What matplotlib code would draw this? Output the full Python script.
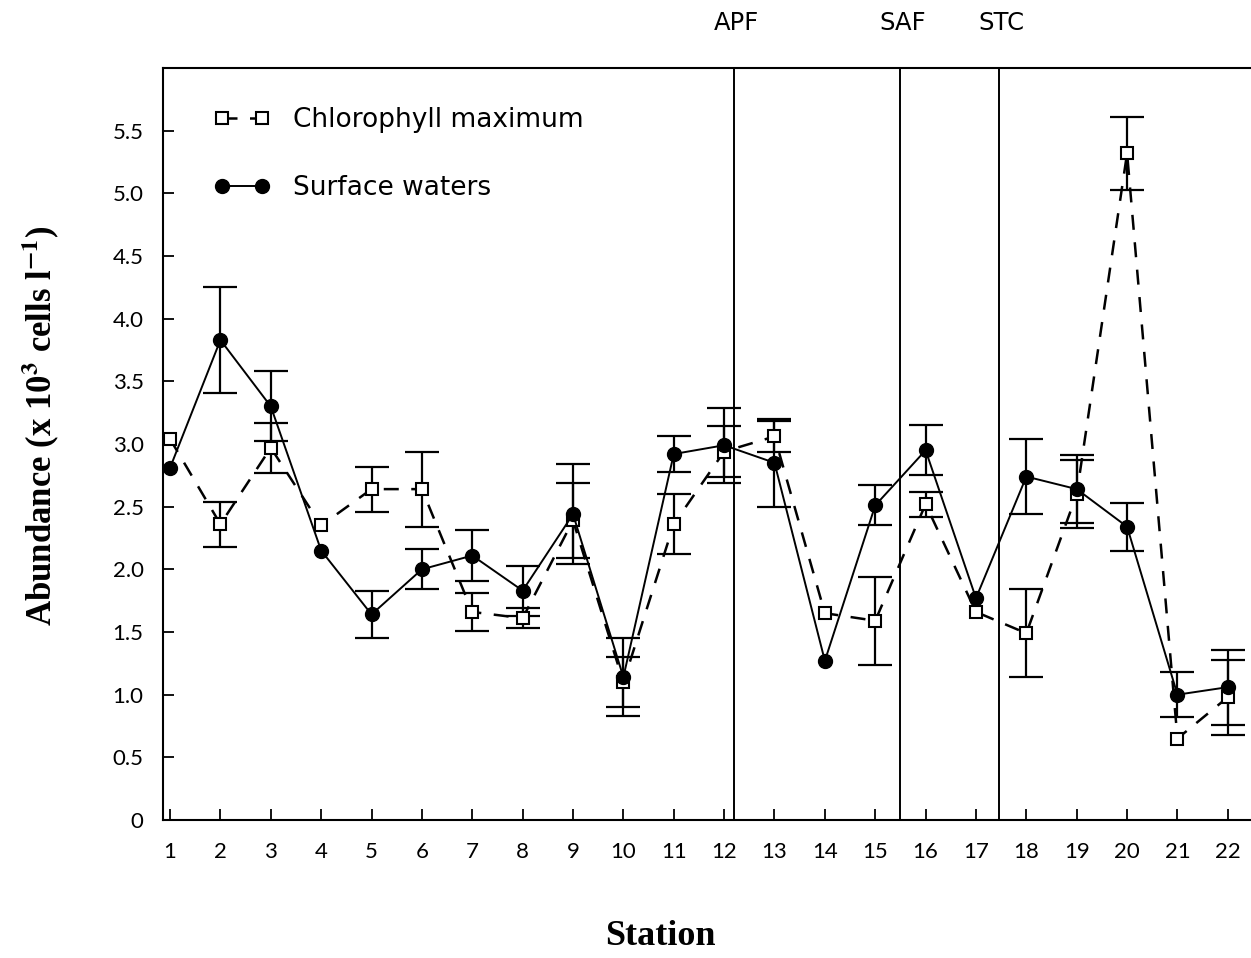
import matplotlib.pyplot as plt
import numpy as np

stations = np.arange(1, 23)

# surface waters (filled circles, solid line)
surface = [2.81, 3.83, 3.30, 2.15, 1.64, 2.00, 2.11, 1.83, 2.44, 1.14, 2.92,
           2.99, 2.85, 1.27, 2.51, 2.95, 1.77, 2.74, 2.64, 2.34, 1.00, 1.06]
surface_err = [np.nan, 0.42, 0.28, np.nan, 0.19, 0.16, 0.20, 0.20, 0.40, 0.31, 0.14,
               0.30, 0.35, np.nan, 0.16, 0.20, np.nan, 0.30, 0.27, 0.19, 0.18, 0.30]

# chlorophyll maximum (open squares, dashed line)
chl = [3.04, 2.36, 2.97, 2.35, 2.64, 2.64, 1.66, 1.61, 2.39, 1.10, 2.36,
       2.94, 3.06, 1.65, 1.59, 2.52, 1.66, 1.49, 2.60, 5.32, 0.65, 0.98]
chl_err = [np.nan, 0.18, 0.20, np.nan, 0.18, 0.30, 0.15, 0.08, 0.30, 0.20, 0.24,
           0.20, 0.12, np.nan, 0.35, 0.10, np.nan, 0.35, 0.27, 0.29, np.nan, 0.30]

# fronts
front_names = ["APF", "SAF", "STC"]
front_pos = [12.2, 15.5, 17.45]

yticks = [0, 0.5, 1.0, 1.5, 2.0, 2.5, 3.0, 3.5, 4.0, 4.5, 5.0, 5.5]
ytick_labels = ["0", "0.5", "1.0", "1.5", "2.0", "2.5", "3.0", "3.5", "4.0", "4.5", "5.0", "5.5"]

plt.rcParams['mathtext.fontset'] = 'stix'

fig = plt.figure(figsize=(12.51, 9.58), dpi=100)
ax = fig.add_axes([163/1251, 138/958, 1088/1251, 752/958])

cap = 12.5
ax.errorbar(stations, chl, yerr=chl_err, fmt='none', ecolor='black',
            elinewidth=1.6, capsize=cap, capthick=1.6, zorder=2)
ax.errorbar(stations, surface, yerr=surface_err, fmt='none', ecolor='black',
            elinewidth=1.6, capsize=cap, capthick=1.6, zorder=2)

ax.plot(stations, chl, color='black', linestyle=(0, (6, 5)), linewidth=1.8,
        marker='s', markersize=9, markerfacecolor='white', markeredgecolor='black',
        markeredgewidth=1.5, zorder=4, label='Chlorophyll maximum')
ax.plot(stations, surface, color='black', linestyle='-', linewidth=1.4,
        marker='o', markersize=10, markerfacecolor='black', markeredgecolor='black',
        zorder=5, label='Surface waters')

for name, xf in zip(front_names, front_pos):
    ax.axvline(xf, color='black', linewidth=1.4, zorder=1)
    ax.text(xf + 0.05, 6.36, name, ha='center', va='center', fontsize=17.5,
            family='DejaVu Sans', clip_on=False)

ax.set_xlim(0.86, 22.46)
ax.set_ylim(0, 6.0)
ax.set_xticks(stations)
ax.set_xticklabels([str(s) for s in stations], family='Lato', fontsize=16)
ax.set_yticks(yticks)
ax.set_yticklabels(ytick_labels, family='Lato', fontsize=16)
ax.tick_params(direction='in', length=8, width=1.3)
ax.tick_params(axis='x', pad=16)
ax.tick_params(axis='y', pad=14)
ax.spines['right'].set_visible(False)
for s in ['left', 'bottom', 'top']:
    ax.spines[s].set_linewidth(1.5)

leg = ax.legend(loc='upper left', bbox_to_anchor=(0.047, 0.948), frameon=False,
                numpoints=2, handlelength=2.1, handletextpad=0.9, labelspacing=1.6,
                borderpad=0, borderaxespad=0,
                prop={'family': 'DejaVu Sans', 'size': 19})

fig.text(0.032, 0.556, r'Abundance (x 10$^{\mathbf{3}}$ cells l$^{\mathbf{-1}}$)',
         rotation=90, ha='center', va='center', fontsize=25,
         family='Liberation Serif', weight='bold')
fig.text(0.528, 0.022, 'Station', ha='center', va='center', fontsize=26,
         family='Liberation Serif', weight='bold')

fig.savefig('out.png', dpi=100)
